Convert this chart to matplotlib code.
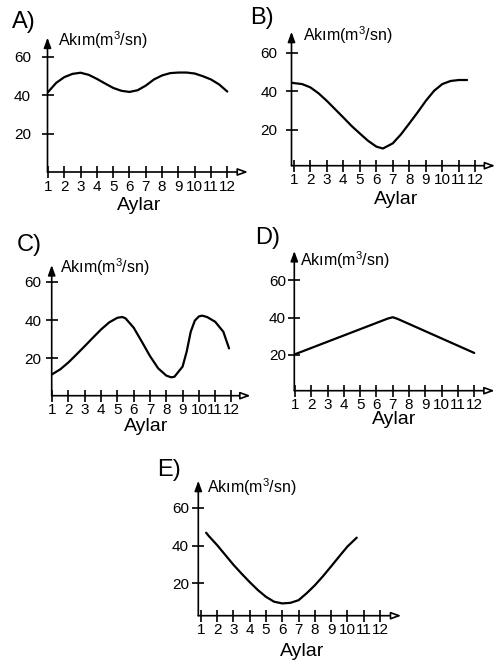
import matplotlib
matplotlib.use("Agg")
import matplotlib.pyplot as plt

plt.rcParams['font.family'] = ['Liberation Sans', 'DejaVu Sans']
plt.rcParams['mathtext.default'] = 'regular'

W, H = 496, 667

# months and tick labels shared by all five panels
months = [1, 2, 3, 4, 5, 6, 7, 8, 9, 10, 11, 12]
month_labels = ['1', '2', '3', '4', '5', '6', '7', '8', '9', '10', '11', '12']
y_ticks = [20, 40, 60]
y_tick_labels = ['20', '40', '60']

# A) two humps, 42..52
a_x = [1, 1.5, 2, 2.5, 3, 3.5, 4, 4.5, 5, 5.5, 6, 6.5, 7, 7.5, 8, 8.5, 9, 9.5, 10, 10.5, 11, 11.5, 12]
a_y = [41.6, 46.4, 49.4, 51.1, 51.7, 50.6, 48.5, 46.1, 43.8, 42.3, 41.7, 42.6, 45, 48.2, 50.3, 51.5,
       51.8, 51.8, 51.3, 49.9, 48.2, 45.6, 41.9]

# B) one deep valley
b_x = [0.88, 1, 1.5, 2, 2.5, 3, 3.5, 4, 4.5, 5, 5.5, 6, 6.4, 7, 7.5, 8, 8.5, 9, 9.5, 10, 10.5, 11, 11.5]
b_y = [44.5, 44.3, 43.8, 42.1, 39, 35.1, 30.8, 26.5, 22.1, 18.2, 14.4, 11.4, 10.4, 13.1, 17.8, 23.4,
       29.1, 35.1, 40.3, 43.8, 45.4, 45.9, 45.9]

# C) peak, valley, peak
c_x = [1, 1.5, 2, 2.5, 3, 3.5, 4, 4.5, 5, 5.3, 5.5, 6, 6.5, 7, 7.5, 8, 8.3, 8.5, 9, 9.25, 9.5, 9.75,
       10, 10.2, 10.5, 11, 11.5, 11.85]
c_y = [11.7, 14.3, 17.9, 22.1, 26.4, 30.8, 35.1, 38.8, 41.2, 41.6, 40.9, 36, 28.7, 21.2, 14.8, 11,
       10.1, 10.4, 15.7, 23.5, 33.9, 39.7, 41.9, 42.3, 41.6, 39.1, 33.9, 25.2]

# D) straight rise then fall
d_x = [1, 6.7, 7, 7.3, 12]
d_y = [20.3, 39.5, 40.2, 39.3, 21]

# E) wide valley
e_x = [1.33, 1.5, 2, 2.5, 3, 3.5, 4, 4.5, 5, 5.5, 6, 6.5, 7, 7.5, 8, 8.5, 9, 9.5, 10, 10.57]
e_y = [46.8, 45, 40.3, 35.1, 29.9, 25.2, 20.7, 16.5, 12.9, 10.3, 9.4, 9.7, 11.1, 14.8, 19, 23.8,
       29, 34.3, 39.5, 44.2]

# layout in pixels: y-axis x, x-axis y, px per month, px per unit, limits
panels = [
    dict(name='A)', x=a_x, y=a_y, X0=47.5, Y0=172, s=16.3, k=1.92, xl=0.97, xr=13.27, yb=0, yt=70,
         lab=(12, 22), akim=(58, 40), aylar=(6.6, 33), ypad=8),
    dict(name='B)', x=b_x, y=b_y, X0=291.5, Y0=165.7, s=16.5, k=1.93, xl=0.86, xr=13.2, yb=1.5, yt=70.9,
         lab=(250, 18), akim=(303, 35), aylar=(7.2, 34), ypad=6),
    dict(name='C)', x=c_x, y=c_y, X0=51.7, Y0=395.7, s=16.3, k=1.915, xl=0.97, xr=13.17, yb=0.5, yt=68.7,
         lab=(17, 245), akim=(60, 267), aylar=(6.75, 31), ypad=3.5),
    dict(name='D)', x=d_x, y=d_y, X0=294.3, Y0=390.7, s=16.3, k=1.86, xl=0.96, xr=13.25, yb=0.7, yt=75.8,
         lab=(255, 238), akim=(300, 260), aylar=(7.1, 29), ypad=2),
    dict(name='E)', x=e_x, y=e_y, X0=198.3, Y0=615.7, s=16.3, k=1.89, xl=0.85, xr=13.3, yb=2.9, yt=74.3,
         lab=(157, 470), akim=(207, 487), aylar=(7.2, 36), ypad=2.7),
]

fig = plt.figure(figsize=(W / 100, H / 100), dpi=100)

for p in panels:
    w = (p['xr'] - p['xl']) * p['s']
    h = (p['yt'] - p['yb']) * p['k']
    ax = fig.add_axes([p['X0'] / W, 1 - p['Y0'] / H, w / W, h / H])
    ax.set_xlim(p['xl'], p['xr'])
    ax.set_ylim(p['yb'], p['yt'])
    ax.patch.set_alpha(0)
    for sp in ax.spines.values():
        sp.set_visible(False)

    ax.plot(p['x'], p['y'], color='black', lw=1.6, solid_capstyle='round', solid_joinstyle='round')

    ax.set_xticks(months)
    ax.set_xticklabels(month_labels)
    ax.set_yticks(y_ticks)
    ax.set_yticklabels(y_tick_labels)
    ax.tick_params(axis='x', direction='inout', length=8, width=1.2, labelsize=11, pad=1.5)
    ax.tick_params(axis='y', direction='inout', length=8, width=1.2, labelsize=11, pad=p['ypad'])

    # axes drawn as arrows
    ax.annotate('', xy=(1, 0), xytext=(0, 0), xycoords='axes fraction',
                arrowprops=dict(arrowstyle='-|>,head_length=0.6,head_width=0.22',
                                lw=1.2, fc='white', ec='black', shrinkA=0, shrinkB=0))
    ax.annotate('', xy=(0, 1), xytext=(0, 0), xycoords='axes fraction',
                arrowprops=dict(arrowstyle='-|>,head_length=0.6,head_width=0.22',
                                lw=1.2, fc='black', ec='black', shrinkA=0, shrinkB=0))

    ax.annotate('Aylar', xy=(p['aylar'][0], 0), xycoords=('data', 'axes fraction'),
                xytext=(0, -p['aylar'][1] * 0.72), textcoords='offset points',
                ha='center', va='center', fontsize=14)

    fig.text(p['lab'][0] / W, 1 - p['lab'][1] / H, p['name'], fontsize=17, ha='left', va='center')
    fig.text(p['akim'][0] / W, 1 - p['akim'][1] / H, 'Akım(m$^3$/sn)', fontsize=11.5,
             ha='left', va='center')

fig.savefig('out.png', dpi=100)
